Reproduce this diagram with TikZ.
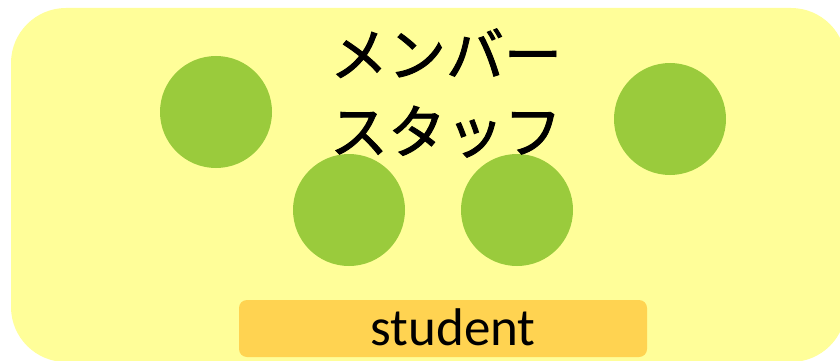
\documentclass[tikz,border=0pt]{standalone}
\usepackage{fontspec}
\setmainfont{Carlito}
\newfontfamily\jpfont[FakeBold=1.5]{Noto Sans CJK JP}
\definecolor{bgyellow}{HTML}{FFFE99}
\definecolor{ballgreen}{HTML}{9ACB3C}
\definecolor{tagorange}{HTML}{FFD351}
\tikzset{
  ball/.style={circle, fill=ballgreen, minimum size=112pt, inner sep=0pt},
  panel/.style={fill=bgyellow, rounded corners=55pt},
  tag/.style={fill=tagorange, rounded corners=8pt, minimum width=408pt, minimum height=57pt, inner sep=0pt},
  tagtext/.style={inner sep=0pt, font=\fontsize{53}{55}\selectfont},
  title/.style={align=center, font=\jpfont\fontsize{58}{77}\selectfont, inner sep=0pt}
}
\begin{document}
\begin{tikzpicture}[x=1pt,y=-1pt]
\useasboundingbox (0,0) rectangle (840,361);
\begin{scope}
\clip (0,0) rectangle (840,361);
\path[panel] (11,8) rectangle (846,362);
\end{scope}
\node[ball] (b1) at (216,112) {};
\node[ball] (b2) at (349,210) {};
\node[ball] (b3) at (517,210) {};
\node[ball] (b4) at (670,119) {};
\node[title] (t) at (446,93) {メンバー\\スタッフ};
\node[tag] (s) at (443,328.5) {};
\node[tagtext] (st) at (453,327) {student};
\end{tikzpicture}
\end{document}
